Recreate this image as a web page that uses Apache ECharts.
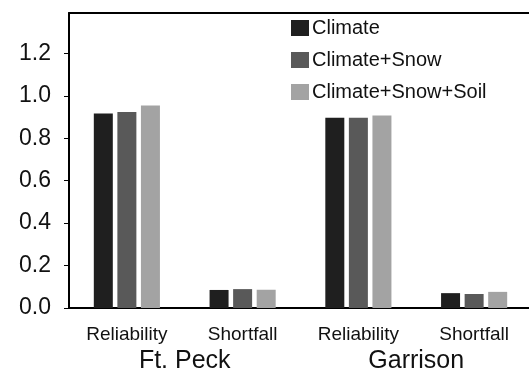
<!DOCTYPE html>
<html>
<head>
<meta charset="utf-8">
<script src="https://cdn.jsdelivr.net/npm/echarts@6/dist/echarts.min.js"></script>
<style>
html,body{margin:0;padding:0;background:#fff;}
#c{width:529px;height:371px;}
</style>
</head>
<body>
<div id="c"></div>
<script>
var categories = ['Reliability', 'Shortfall', 'Reliability', 'Shortfall'];
var groups = ['Ft. Peck', 'Garrison'];
var seriesNames = ['Climate', 'Climate+Snow', 'Climate+Snow+Soil'];
var climate = [0.916, 0.085, 0.897, 0.070];
var climateSnow = [0.924, 0.089, 0.897, 0.066];
var climateSnowSoil = [0.954, 0.086, 0.907, 0.076];
var yTicks = [0.0, 0.2, 0.4, 0.6, 0.8, 1.0, 1.2];
var colors = ['#1f1f1f', '#595959', '#a3a3a3'];

var font = "'Liberation Sans', Arial, Helvetica, sans-serif";
var chart = echarts.init(document.getElementById('c'));
var seriesData = [climate, climateSnow, climateSnowSoil];
chart.setOption({
  animation: false,
  textStyle: {fontFamily: font},
  grid: {left: 69, top: 13, bottom: 63, right: -3, containLabel: false, outerBoundsMode: 'none'},
  legend: {
    data: seriesNames,
    orient: 'vertical',
    left: 291,
    top: 18,
    padding: 0,
    itemWidth: 18,
    itemHeight: 16,
    itemGap: 12,
    icon: 'rect',
    textStyle: {fontSize: 20, color: '#111', fontFamily: font, lineHeight: 20, padding: [0, 0, 0, -2]}
  },
  xAxis: [
    {
      type: 'category',
      data: categories,
      position: 'bottom',
      axisLine: {lineStyle: {color: '#000', width: 2}},
      axisTick: {alignWithLabel: true, inside: false, length: 5, lineStyle: {color: '#000', width: 1}},
      axisLabel: {fontSize: 19, color: '#111', margin: 17, fontFamily: font}
    },
    {
      type: 'category',
      data: groups,
      position: 'bottom',
      axisLine: {show: false},
      axisTick: {show: false},
      axisLabel: {fontSize: 25, color: '#111', margin: 41, fontFamily: font}
    },
    {
      type: 'category',
      data: categories,
      position: 'top',
      axisLine: {lineStyle: {color: '#000', width: 2}},
      axisTick: {alignWithLabel: true, inside: false, length: 5, lineStyle: {color: '#000', width: 1}},
      axisLabel: {show: false}
    }
  ],
  yAxis: {
    type: 'value',
    min: 0,
    max: 1.39,
    interval: 0.2,
    axisLine: {show: true, lineStyle: {color: '#000', width: 2}},
    axisTick: {show: true, inside: false, length: 5, lineStyle: {color: '#000', width: 1}},
    splitLine: {show: false},
    axisLabel: {
      fontSize: 23, color: '#111', margin: 18, fontFamily: font,
      showMaxLabel: false,
      formatter: function (v) {
        for (var i = 0; i < yTicks.length; i++) {
          if (Math.abs(yTicks[i] - v) < 1e-6) return yTicks[i].toFixed(1);
        }
        return '';
      }
    }
  },
  series: seriesNames.map(function (name, i) {
    return {
      name: name,
      type: 'bar',
      xAxisIndex: 0,
      data: seriesData[i],
      barWidth: 19,
      barGap: '24%',
      itemStyle: {color: colors[i]}
    };
  })
});
</script>
</body>
</html>
